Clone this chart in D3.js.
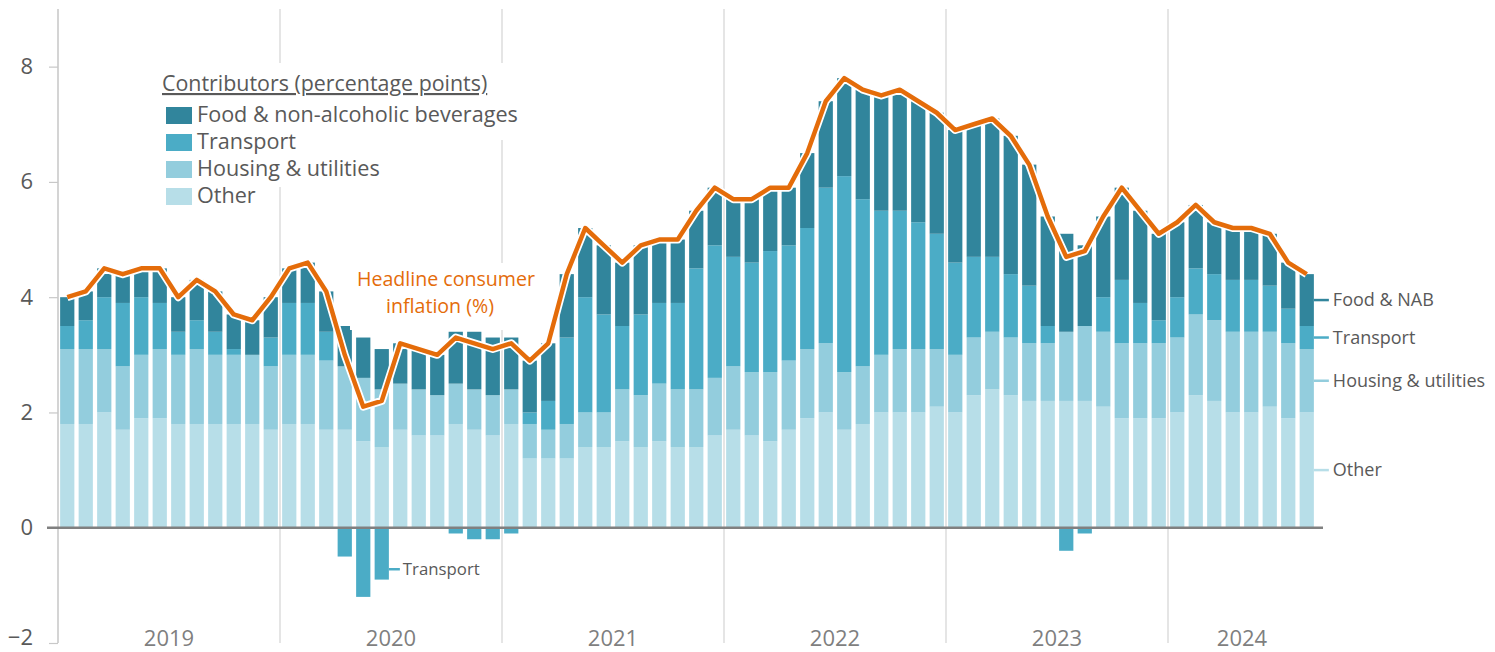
<!DOCTYPE html>
<html>
<head>
<meta charset="utf-8">
<script src="https://cdn.jsdelivr.net/npm/d3@7"></script>
<style>
  body { margin: 0; background: #fff; }
  text { font-family: "Open Sans", "Noto Sans", sans-serif; }
</style>
</head>
<body>
<div id="chart"></div>
<script>
// Monthly contributions to headline CPI, Jan 2019 - Aug 2024
const years = ['2019', '2020', '2021', '2022', '2023', '2024'];
const months = d3.timeMonth.range(new Date(2019, 0, 1), new Date(2024, 8, 1));

const other = [
  1.8, 1.8, 2.0, 1.7, 1.9, 1.9, 1.8, 1.8, 1.8, 1.8, 1.8, 1.7,
  1.8, 1.8, 1.7, 1.7, 1.5, 1.4, 1.7, 1.6, 1.6, 1.8, 1.7, 1.6,
  1.8, 1.2, 1.2, 1.2, 1.4, 1.4, 1.5, 1.4, 1.5, 1.4, 1.4, 1.6,
  1.7, 1.6, 1.5, 1.7, 1.9, 2.0, 1.7, 1.8, 2.0, 2.0, 2.0, 2.1,
  2.0, 2.3, 2.4, 2.3, 2.2, 2.2, 2.2, 2.2, 2.1, 1.9, 1.9, 1.9,
  2.0, 2.3, 2.2, 2.0, 2.0, 2.1, 1.9, 2.0
];
const housing = [
  1.3, 1.3, 1.1, 1.1, 1.1, 1.2, 1.2, 1.3, 1.2, 1.2, 1.2, 1.1,
  1.2, 1.2, 1.2, 1.1, 1.1, 1.0, 0.8, 0.8, 0.7, 0.7, 0.7, 0.7,
  0.6, 0.6, 0.5, 0.6, 0.6, 0.6, 0.9, 0.9, 1.0, 1.0, 1.0, 1.0,
  1.1, 1.1, 1.2, 1.2, 1.2, 1.2, 1.0, 1.0, 1.0, 1.1, 1.1, 1.0,
  1.0, 1.0, 1.0, 1.0, 1.0, 1.0, 1.2, 1.3, 1.3, 1.3, 1.3, 1.3,
  1.3, 1.4, 1.4, 1.4, 1.4, 1.3, 1.3, 1.1
];
const transport = [
  0.4, 0.5, 0.9, 1.1, 1.0, 0.8, 0.4, 0.5, 0.4, 0.1, 0.0, 0.5,
  0.9, 0.9, 0.5, -0.5, -1.2, -0.9, 0.0, 0.0, 0.0, -0.1, -0.2, -0.2,
  -0.1, 0.2, 0.5, 1.5, 2.0, 1.7, 1.1, 1.4, 1.4, 1.5, 2.1, 2.3,
  1.9, 1.9, 2.1, 2.0, 2.1, 2.7, 3.4, 2.9, 2.5, 2.4, 2.2, 2.0,
  1.6, 1.4, 1.3, 1.1, 1.0, 0.3, -0.4, -0.1, 0.6, 1.1, 0.7, 0.4,
  0.7, 0.8, 0.8, 0.9, 0.9, 0.8, 0.6, 0.4
];
const food = [
  0.5, 0.5, 0.5, 0.5, 0.5, 0.6, 0.6, 0.7, 0.7, 0.6, 0.6, 0.7,
  0.6, 0.7, 0.7, 0.7, 0.7, 0.7, 0.7, 0.7, 0.7, 0.9, 1.0, 1.0,
  0.9, 0.9, 1.0, 1.1, 1.2, 1.2, 1.1, 1.2, 1.1, 1.1, 1.0, 1.0,
  1.0, 1.1, 1.1, 1.0, 1.3, 1.5, 1.7, 1.9, 2.0, 2.1, 2.1, 2.1,
  2.3, 2.3, 2.4, 2.4, 2.1, 1.9, 1.7, 1.4, 1.4, 1.6, 1.6, 1.5,
  1.3, 1.1, 0.9, 0.9, 0.9, 0.9, 0.8, 0.9
];
const headline = [
  4.0, 4.1, 4.5, 4.4, 4.5, 4.5, 4.0, 4.3, 4.1, 3.7, 3.6, 4.0,
  4.5, 4.6, 4.1, 3.0, 2.1, 2.2, 3.2, 3.1, 3.0, 3.3, 3.2, 3.1,
  3.2, 2.9, 3.2, 4.4, 5.2, 4.9, 4.6, 4.9, 5.0, 5.0, 5.5, 5.9,
  5.7, 5.7, 5.9, 5.9, 6.5, 7.4, 7.8, 7.6, 7.5, 7.6, 7.4, 7.2,
  6.9, 7.0, 7.1, 6.8, 6.3, 5.4, 4.7, 4.8, 5.4, 5.9, 5.5, 5.1,
  5.3, 5.6, 5.3, 5.2, 5.2, 5.1, 4.6, 4.4
];
const yTicks = [-2, 0, 2, 4, 6, 8];

const seriesKeys = ['other', 'housing', 'transport', 'food'];
const legendNames = ['Food & non-alcoholic beverages', 'Transport', 'Housing & utilities', 'Other'];
const endNames = { food: 'Food & NAB', transport: 'Transport', housing: 'Housing & utilities', other: 'Other' };
const colors = { food: '#31859c', transport: '#4bacc6', housing: '#93cddd', other: '#b7dee8' };
const orange = '#e46c0a';
const textGrey = '#595959';

const width = 1495, height = 652;

const svg = d3.select('#chart')
  .append('svg')
  .attr('width', width)
  .attr('height', height);

// Scales
const x = d3.scaleBand()
  .domain(months)
  .range([58, 1316])
  .paddingInner(0.23)
  .paddingOuter(0.115);

const y = d3.scaleLinear()
  .domain([-2, 9])
  .range([643, 9]);

const rows = months.map((m, i) => ({
  month: m,
  other: other[i],
  housing: housing[i],
  transport: transport[i],
  food: food[i]
}));

const stacked = d3.stack()
  .keys(seriesKeys)
  .offset(d3.stackOffsetDiverging)(rows);

const gap = (x.step() - x.bandwidth()) / 2;

// Year dividers
const yearStarts = years.map((yr, i) => months[i * 12]);
svg.append('g')
  .selectAll('line')
  .data(yearStarts)
  .join('line')
  .attr('x1', d => x(d) - gap)
  .attr('x2', d => x(d) - gap)
  .attr('y1', y(9))
  .attr('y2', y(-2))
  .attr('stroke', '#d4d4d4')
  .attr('stroke-width', 1.2);

// Y axis
const yAxis = svg.append('g')
  .attr('transform', 'translate(58,0)')
  .call(d3.axisLeft(y).tickValues(yTicks).tickSize(9).tickPadding(16).tickFormat(d3.format('d')));
yAxis.select('.domain').remove();
yAxis.selectAll('.tick line').attr('stroke', '#c8c8c8').attr('stroke-width', 1.2);
yAxis.selectAll('.tick text')
  .attr('fill', textGrey)
  .attr('dy', d => d === -2 ? '0.08em' : '0.32em')
  .style('font-size', '22px')
  .style('font-family', '"Open Sans", sans-serif');

// Year labels
svg.append('g')
  .selectAll('text')
  .data(years)
  .join('text')
  .attr('x', (yr, i) => {
    const ms = months.filter(m => m.getFullYear() === +yr);
    return (x(ms[0]) + x(ms[ms.length - 1]) + x.bandwidth()) / 2;
  })
  .attr('y', 646)
  .attr('text-anchor', 'middle')
  .attr('fill', '#7f7f7f')
  .style('font-size', '22px')
  .text(d => d);

// Bars
svg.append('g')
  .selectAll('g')
  .data(stacked)
  .join('g')
  .attr('fill', d => colors[d.key])
  .selectAll('rect')
  .data(d => d)
  .join('rect')
  .attr('x', d => x(d.data.month))
  .attr('width', x.bandwidth())
  .attr('y', d => y(Math.max(d[0], d[1])))
  .attr('height', d => Math.abs(y(d[0]) - y(d[1])));

// Left axis line and zero line
svg.append('line')
  .attr('x1', 58).attr('x2', 58)
  .attr('y1', y(9)).attr('y2', y(-2))
  .attr('stroke', '#c8c8c8')
  .attr('stroke-width', 1.2);

svg.append('line')
  .attr('x1', 47).attr('x2', 1323)
  .attr('y1', y(0)).attr('y2', y(0))
  .attr('stroke', '#808080')
  .attr('stroke-width', 2.6);

// Headline line with white halo
const line = d3.line()
  .x((d, i) => x(months[i]) + x.bandwidth() / 2)
  .y(d => y(d));

svg.append('path')
  .datum(headline)
  .attr('d', line)
  .attr('fill', 'none')
  .attr('stroke', '#fff')
  .attr('stroke-width', 8)
  .attr('stroke-linejoin', 'round');

svg.append('path')
  .datum(headline)
  .attr('d', line)
  .attr('fill', 'none')
  .attr('stroke', orange)
  .attr('stroke-width', 4.5)
  .attr('stroke-linejoin', 'round');

// Legend
const legend = svg.append('g');
legend.append('rect').attr('x', 155).attr('y', 63).attr('width', 372).attr('height', 77).attr('fill', '#fff');
legend.append('rect').attr('x', 155).attr('y', 140).attr('width', 230).attr('height', 47).attr('fill', '#fff');

legend.append('text')
  .attr('x', 162)
  .attr('y', 91)
  .attr('fill', textGrey)
  .style('font-size', '21.4px')
  .style('text-decoration', 'underline')
  .text('Contributors (percentage points)');

const legendKeys = ['food', 'transport', 'housing', 'other'];
legendKeys.forEach((k, i) => {
  const cy = 115 + i * 27;
  legend.append('rect')
    .attr('x', 166).attr('y', cy - 8)
    .attr('width', 26).attr('height', 17)
    .attr('fill', colors[k]);
  legend.append('text')
    .attr('x', 197)
    .attr('y', cy + 7)
    .attr('fill', textGrey)
    .style('font-size', '21.6px')
    .text(legendNames[i]);
});

// Headline label
svg.append('rect').attr('x', 350).attr('y', 263).attr('width', 192).attr('height', 67).attr('fill', '#fff');
const hl = svg.append('text')
  .attr('text-anchor', 'middle')
  .attr('fill', orange)
  .style('font-size', '19.6px');
hl.append('tspan').attr('x', 446).attr('y', 286).text('Headline consumer');
hl.append('tspan').attr('x', 440).attr('y', 313).text('inflation (%)');

// Transport label for the 2020 negative bars
const negMonth = months[17];
svg.append('line')
  .attr('x1', x(negMonth) + x.bandwidth())
  .attr('x2', x(negMonth) + x.bandwidth() + 11)
  .attr('y1', y(-0.72)).attr('y2', y(-0.72))
  .attr('stroke', colors.transport)
  .attr('stroke-width', 2.5);
svg.append('text')
  .attr('x', x(negMonth) + x.bandwidth() + 14)
  .attr('y', y(-0.72) + 6)
  .attr('fill', textGrey)
  .style('font-size', '16.8px')
  .text('Transport');

// End labels at the last bar
const lastIdx = months.length - 1;
const lastX = x(months[lastIdx]) + x.bandwidth();
stacked.forEach(s => {
  const seg = s[lastIdx];
  const mid = y((seg[0] + seg[1]) / 2);
  svg.append('line')
    .attr('x1', lastX).attr('x2', lastX + 15)
    .attr('y1', mid).attr('y2', mid)
    .attr('stroke', colors[s.key])
    .attr('stroke-width', 2.5);
  svg.append('text')
    .attr('x', lastX + 19)
    .attr('y', mid + 6)
    .attr('fill', textGrey)
    .style('font-size', '18px')
    .text(endNames[s.key]);
});
</script>
</body>
</html>
